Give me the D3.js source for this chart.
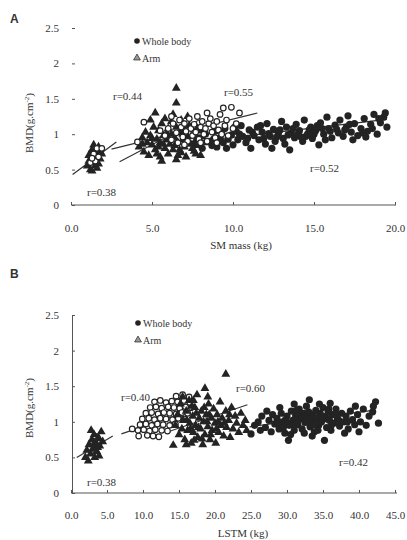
<!DOCTYPE html>
<html>
<head>
<meta charset="utf-8">
<script src="https://cdn.jsdelivr.net/npm/d3@7/dist/d3.min.js"></script>
<style>
  body { margin: 0; background: #fff; }
  svg text { font-family: "Liberation Serif", "Times New Roman", serif; fill: #333; }
</style>
</head>
<body>
<svg id="chart" width="407" height="540"></svg>
<script>
// ---- Panel A: BMD vs SM mass ----
const xTicksA = [0, 5, 10, 15, 20];
const yTicks = [0, 0.5, 1, 1.5, 2, 2.5];
const rLabelsA = ["r=0.44", "r=0.55", "r=0.38", "r=0.52"];

// whole body (filled circles)
const wholeA = [
  [7.6,0.86],[7.9,0.95],[8.1,0.8],[8.3,1.0],[8.5,0.9],[8.7,0.84],[8.9,1.04],[9.0,0.82],[9.2,0.95],[9.4,0.88],
  [9.5,1.08],[9.7,0.93],[9.9,0.99],[10.0,0.85],[10.2,1.04],[10.3,0.92],[10.5,1.12],[10.6,0.97],[10.8,0.88],[11.0,1.06],
  [11.1,0.8],[11.3,0.98],[11.5,1.1],[11.6,0.92],[11.8,1.03],[12.0,0.86],[12.1,1.15],[12.3,0.97],[12.5,1.07],[12.6,0.9],
  [12.8,1.01],[13.0,1.18],[13.1,0.94],[13.3,1.1],[13.5,0.78],[13.6,1.02],[13.8,0.95],[13.9,1.14],[14.1,1.05],[14.3,0.9],
  [14.4,1.2],[14.6,1.0],[14.8,1.1],[14.9,0.94],[15.1,1.05],[15.3,0.85],[15.4,1.16],[15.6,1.0],[15.8,1.24],[15.9,1.08],
  [16.1,0.95],[16.3,1.13],[16.5,1.02],[16.6,1.2],[16.8,0.97],[17.0,1.1],[17.1,1.26],[17.3,1.03],[17.5,1.15],[17.7,0.98],
  [17.9,1.08],[18.1,1.22],[18.3,1.04],[18.5,1.14],[18.7,1.28],[18.9,1.0],[19.1,1.16],[19.3,1.24],[19.5,1.1],[19.4,1.3],
  [10.4,1.0],[11.2,1.03],[12.2,1.01],[12.9,1.06],[13.4,0.99],[14.0,1.0],[14.7,1.06],[15.2,1.12],[16.0,1.04],[16.9,1.06],
  [13.2,0.86],[11.9,0.94],[14.5,0.97],[15.7,0.92],[17.4,0.92],[18.2,0.96],[9.6,0.8],[12.4,0.8],
  [8.0,1.06],[8.8,0.93],[9.3,1.02],[10.1,1.1],[10.9,0.94],[11.7,1.12],[12.7,0.96],[13.7,1.08],[14.2,0.96],[15.0,1.0],
  [15.5,1.08],[16.4,1.07],[17.2,1.14],[18.0,1.02],[18.6,1.08],[19.0,1.22]
];
// arm (filled triangles)
const armA = [
  [4.2,0.82],[4.4,0.95],[4.5,0.75],[4.6,1.03],[4.7,0.88],[4.8,0.7],[4.9,0.98],[5.0,0.85],[5.1,1.1],[5.2,1.3],
  [5.2,0.78],[5.3,0.93],[5.4,1.05],[5.5,0.68],[5.5,0.88],[5.6,1.15],[5.7,0.98],[5.8,0.8],[5.8,1.22],[5.9,0.92],
  [6.0,1.08],[6.0,0.72],[6.1,0.86],[6.2,1.0],[6.2,1.18],[6.3,0.78],[6.4,0.95],[6.5,1.65],[6.5,1.44],[6.5,0.64],
  [6.5,1.1],[6.6,0.88],[6.7,1.02],[6.8,0.74],[6.8,1.2],[6.9,0.92],[7.0,1.06],[7.0,0.82],[7.1,0.68],[7.2,0.97],
  [7.3,1.12],[7.4,0.86],[7.5,1.0],[7.6,0.76],[7.7,0.92],[7.8,1.08],[7.9,0.84],[8.0,0.7],[8.1,0.96],[8.3,0.88],
  [5.6,0.62],[6.3,1.28],[4.9,1.2],[7.2,1.25],
  [4.4,0.86],[5.0,0.94],[5.3,0.72],[5.7,0.86],[6.0,0.95],[6.4,0.84],[6.7,0.78],[7.1,0.9],[7.5,0.8],[5.9,1.02],
  [6.9,1.0],[7.7,0.72],[5.4,0.82],[6.6,0.7]
];
// open circles
const openA = [
  [4.1,0.89],[4.5,1.17],[5.8,0.98],[6.0,1.08],[6.2,0.92],[6.3,1.15],[6.5,1.02],[6.6,0.88],[6.7,1.2],[6.8,1.1],
  [6.9,0.96],[7.0,1.15],[7.1,1.04],[7.2,0.9],[7.3,1.22],[7.4,1.08],[7.5,0.98],[7.6,1.14],[7.7,1.03],[7.8,1.25],
  [7.9,0.93],[8.0,1.1],[8.1,1.18],[8.2,1.0],[8.3,1.08],[8.4,0.9],[8.5,1.15],[8.6,1.22],[8.7,1.03],[8.8,1.12],
  [8.9,0.95],[9.0,1.18],[9.1,1.06],[9.2,1.28],[9.3,1.0],[9.4,1.37],[9.5,1.12],[9.6,1.2],[9.7,0.98],[9.9,1.38],
  [10.0,1.08],[10.2,1.15],[10.4,1.3],[5.5,1.05],[7.0,0.85],[8.0,0.88],[6.2,1.25],[9.0,0.88],[8.4,1.3]
];
// small cluster
const smallArmA = [
  [1.0,0.55],[1.1,0.62],[1.2,0.5],[1.2,0.7],[1.3,0.78],[1.4,0.6],[1.4,0.85],[1.5,0.68],[1.6,0.52],[1.6,0.75],
  [1.7,0.82],[1.8,0.65],[1.9,0.72],[1.3,0.48],[1.7,0.58],[1.1,0.7],[1.5,0.56],[1.8,0.76],[1.4,0.68]
];
const smallOpenA = [
  [1.2,0.6],[1.4,0.72],[1.5,0.62],[1.6,0.8],[1.3,0.66],[1.7,0.68],[1.9,0.8]
];
// regression lines [x1, y1, x2, y2]
const fitsA = [
  [0.1, 0.43, 2.8, 0.89],
  [2.5, 0.79, 11.5, 1.30],
  [3.0, 0.61, 7.9, 1.20],
  [7.5, 0.89, 19.5, 1.21]
];

// ---- Panel B: BMD vs LSTM ----
const xTicksB = [0, 5, 10, 15, 20, 25, 30, 35, 40, 45];
const rLabelsB = ["r=0.40", "r=0.60", "r=0.38", "r=0.42"];

const wholeB = [
  [25.0,0.83],[25.5,0.95],[26.0,1.0],[26.3,0.88],[26.5,1.08],[27.0,0.92],[27.2,1.15],[27.5,1.02],[27.8,0.86],[28.0,1.1],
  [28.3,0.97],[28.6,1.05],[28.9,0.9],[29.0,1.2],[29.2,1.12],[29.4,1.0],[29.7,0.84],[30.0,1.08],[30.2,0.74],[30.3,0.95],
  [30.5,0.82],[30.6,1.15],[30.8,1.02],[31.0,0.88],[31.0,1.25],[31.2,1.08],[31.5,0.96],[31.7,1.18],[31.9,1.04],[32.1,0.9],
  [32.3,1.12],[32.5,0.99],[32.7,1.22],[32.9,1.06],[33.1,1.31],[33.2,0.93],[33.4,1.1],[33.5,0.8],[33.6,1.01],[33.8,0.86],
  [34.0,1.16],[34.2,1.04],[34.4,0.95],[34.5,1.25],[34.6,1.12],[34.8,1.0],[35.0,1.2],[35.2,0.74],[35.3,1.07],[35.5,0.92],
  [35.7,1.14],[35.9,1.02],[36.0,1.26],[36.1,0.88],[36.3,1.1],[36.5,0.98],[36.8,1.18],[37.0,1.05],[37.3,0.94],[37.6,1.12],
  [37.9,1.0],[38.0,0.84],[38.2,1.08],[38.5,0.9],[38.8,1.15],[39.1,1.03],[39.4,0.96],[39.5,1.22],[39.8,1.1],[40.0,0.86],
  [40.2,1.0],[40.6,1.18],[41.0,0.95],[41.4,1.08],[41.9,1.14],[42.3,1.28],[42.7,0.98],[42.0,1.22],
  [29.8,1.03],[31.4,1.0],[32.8,1.0],[34.0,1.06],[35.6,1.04],[37.2,1.02],[30.9,0.96],[33.0,1.14],
  [28.8,0.98],[30.1,0.98],[31.6,1.1],[32.2,1.06],[33.7,0.96],[34.9,1.08],[36.2,0.96],[36.9,1.1],[38.4,1.0],[29.5,0.92],
  [32.4,0.84],[34.3,0.88],[35.8,1.18],[31.3,1.16]
];
const armB = [
  [14.2,0.67],[14.5,0.95],[14.8,1.1],[15.0,0.82],[15.2,1.25],[15.4,0.9],[15.6,1.02],[15.8,0.75],[16.0,1.15],[16.2,0.88],
  [16.4,1.3],[16.5,0.98],[16.7,0.7],[16.9,1.08],[17.0,0.85],[17.2,1.2],[17.3,0.95],[17.5,1.38],[17.6,0.78],[17.8,1.05],
  [18.0,0.9],[18.1,1.15],[18.3,0.68],[18.4,1.0],[18.6,1.47],[18.6,0.82],[18.8,1.1],[19.0,0.93],[19.1,1.25],[19.3,0.75],
  [19.5,1.05],[19.6,0.88],[19.8,1.18],[20.0,0.98],[20.1,0.7],[20.3,1.1],[20.5,0.85],[20.7,1.28],[20.8,0.95],[21.0,1.05],
  [21.2,0.8],[21.5,1.67],[21.5,1.15],[21.6,0.92],[21.9,1.02],[22.1,0.78],[22.3,1.2],[22.5,0.9],[22.8,1.08],[23.0,0.98],
  [23.3,0.85],[23.6,1.12],[23.9,0.95],[24.2,1.02],[24.4,0.88],[17.0,1.3],[19.0,1.35],[16.0,0.68],[15.5,1.35],
  [17.7,0.92],[18.9,1.0],[20.4,1.0],[16.6,0.9],[19.4,0.82],
  [16.1,1.02],[17.4,1.12],[18.2,0.76],[18.5,1.2],[19.2,1.1],[20.2,0.9],[21.3,0.98],[22.0,1.1],[17.1,0.74],[16.8,1.22]
];
const openB = [
  [14.6,1.36],[15.5,1.38],[16.4,1.35],
  [11.6,1.28],[12.4,1.3],[13.2,1.27],[14.0,1.29],[14.8,1.28],[15.7,1.3],[16.5,1.27],
  [11.0,1.2],[11.8,1.21],[12.6,1.19],[13.5,1.21],[14.3,1.2],[15.1,1.19],[15.9,1.21],[16.7,1.2],
  [10.4,1.12],[11.2,1.13],[12.1,1.11],[12.9,1.13],[13.7,1.12],[14.6,1.11],[15.4,1.13],[16.2,1.12],
  [9.9,1.04],[10.8,1.05],[11.6,1.03],[12.4,1.05],[13.2,1.04],[14.1,1.03],[14.9,1.05],[15.7,1.04],
  [9.6,0.96],[10.4,0.97],[11.2,0.95],[12.0,0.97],[12.8,0.96],[13.7,0.95],[14.5,0.97],
  [9.3,0.88],[10.1,0.89],[10.9,0.87],[11.7,0.89],[12.6,0.88],[13.4,0.87],
  [9.4,0.8],[10.6,0.81],[11.4,0.8],[12.2,0.79],[8.5,0.9]
];
const smallArmB = [
  [2.0,0.5],[2.2,0.6],[2.4,0.45],[2.5,0.68],[2.7,0.55],[2.9,0.75],[3.0,0.62],[3.2,0.82],[3.3,0.5],[3.5,0.7],
  [3.6,0.58],[3.8,0.78],[4.0,0.66],[4.2,0.86],[4.4,0.72],[2.8,0.88],[3.9,0.52],[3.1,0.68],[3.7,0.64]
];
const smallOpenB = [
  [2.6,0.62],[3.1,0.74],[3.4,0.6],[3.9,0.7],[3.3,0.8],[2.8,0.7]
];
const fitsB = [
  [0.8, 0.50, 5.8, 0.80],
  [7.0, 0.83, 17.0, 1.17],
  [13.5, 0.86, 24.5, 1.24],
  [24.8, 0.93, 41.9, 1.16]
];

const legendLabels = ["Whole body", "Arm"];

const svg = d3.select('#chart');
const ink = '#232323';

function drawPanel(p) {
  const x = d3.scaleLinear().domain(p.xDomain).range(p.xRange);
  const y = d3.scaleLinear().domain([0, 2.5]).range(p.yRange);
  const g = svg.append('g');

  // x axis: ticks point up, labels below
  const xa = g.append('g')
    .attr('transform', `translate(0,${p.yRange[0]})`)
    .call(d3.axisBottom(x).tickValues(p.xTicks).tickFormat(d3.format('.1f'))
      .tickSizeInner(-3).tickSizeOuter(0).tickPadding(p.xPad));
  xa.select('.domain').attr('stroke', '#555').attr('d', `M${p.xRange[0]},0H${p.xLineEnd}`);
  xa.selectAll('.tick line').attr('stroke', '#555');
  xa.selectAll('text').style('font-size', '11px').attr('fill', '#333');

  // y axis: ticks point right
  const ya = g.append('g')
    .attr('transform', `translate(${p.yAxisX},0)`)
    .call(d3.axisLeft(y).tickValues(yTicks).tickFormat(d3.format('')).tickSizeInner(-3).tickSizeOuter(0).tickPadding(13));
  ya.select('.domain').attr('stroke', '#555').style('display', p.showYLine ? null : 'none');
  ya.selectAll('.tick line').attr('stroke', '#555');
  ya.selectAll('text').style('font-size', '11px').attr('fill', '#333');

  // regression lines
  g.selectAll('.fit').data(p.fits).enter().append('line')
    .attr('x1', d => x(d[0])).attr('y1', d => y(d[1]))
    .attr('x2', d => x(d[2])).attr('y2', d => y(d[3]))
    .attr('stroke', '#333').attr('stroke-width', 1.2);

  const tri = d3.symbol().type(d3.symbolTriangle).size(34);

  const layers = {
    whole: () => g.append('g').selectAll('circle').data(p.whole).enter().append('circle')
      .attr('cx', d => x(d[0])).attr('cy', d => y(d[1])).attr('r', 3.6).attr('fill', ink),
    arm: () => g.append('g').selectAll('path').data(p.arm.concat(p.smallArm)).enter().append('path')
      .attr('d', tri).attr('transform', d => `translate(${x(d[0])},${y(d[1])})`).attr('fill', ink),
    open: () => g.append('g').selectAll('circle').data(p.open.concat(p.smallOpen)).enter().append('circle')
      .attr('cx', d => x(d[0])).attr('cy', d => y(d[1])).attr('r', 2.8)
      .attr('fill', '#fff').attr('stroke', ink).attr('stroke-width', 1.2)
  };
  p.order.forEach(k => layers[k]());

  // r annotations
  g.selectAll('.rlab').data(p.rLabels).enter().append('text')
    .attr('x', (d, i) => p.rPos[i][0]).attr('y', (d, i) => p.rPos[i][1])
    .style('font-size', '11px').text(d => d);

  // legend
  const lg = g.append('g').attr('transform', `translate(${p.legend[0]},${p.legend[1]})`);
  lg.append('circle').attr('cx', 0).attr('cy', 0).attr('r', 2.8).attr('fill', ink);
  lg.append('path').attr('d', d3.symbol().type(d3.symbolTriangle).size(20))
    .attr('transform', 'translate(0,17)').attr('fill', '#999').attr('stroke', '#333').attr('stroke-width', 0.8);
  lg.selectAll('.leg').data(legendLabels).enter().append('text')
    .attr('x', 5).attr('y', (d, i) => 4 + i * 17)
    .style('font-size', '10px').text(d => d);

  // axis titles
  g.append('text').attr('x', p.xTitlePos[0]).attr('y', p.xTitlePos[1])
    .attr('text-anchor', 'middle').style('font-size', '11px').text(p.xTitle);
  const yt = g.append('text')
    .attr('transform', `translate(${p.yTitlePos[0]},${p.yTitlePos[1]}) rotate(-90)`)
    .attr('text-anchor', 'middle').style('font-size', '11px');
  yt.append('tspan').text('BMD(g.cm');
  yt.append('tspan').attr('dy', -4).style('font-size', '7px').text('-2');
  yt.append('tspan').attr('dy', 4).text(')');

  // panel letter
  g.append('text').attr('x', 10).attr('y', p.letterY)
    .style('font-family', 'Liberation Sans, Arial, sans-serif').style('font-weight', 'bold')
    .style('font-size', '12px').attr('fill', '#222').text(p.letter);
}

drawPanel({
  letter: 'A', letterY: 23,
  xDomain: [0, 20], xRange: [71, 395], xLineEnd: 396, xTicks: xTicksA, xPad: 19,
  yRange: [205, 28], yAxisX: 72, showYLine: false,
  whole: wholeA, arm: armA, open: openA, smallArm: smallArmA, smallOpen: smallOpenA,
  fits: fitsA, order: ['whole', 'arm', 'open'],
  rLabels: rLabelsA, rPos: [[113, 100], [224, 96], [87, 196], [310, 172]],
  legend: [137, 41],
  xTitle: 'SM mass (kg)', xTitlePos: [241, 249],
  yTitlePos: [33, 123]
});

drawPanel({
  letter: 'B', letterY: 278,
  xDomain: [0, 45], xRange: [71, 395], xLineEnd: 397, xTicks: xTicksB, xPad: 18,
  yRange: [493, 315], yAxisX: 72, showYLine: true,
  whole: wholeB, arm: armB, open: openB, smallArm: smallArmB, smallOpen: smallOpenB,
  fits: fitsB, order: ['whole', 'open', 'arm'],
  rLabels: rLabelsB, rPos: [[121, 401], [236, 392], [87, 486], [339, 466]],
  legend: [138, 323],
  xTitle: 'LSTM (kg)', xTitlePos: [243, 537],
  yTitlePos: [33, 408]
});
</script>
</body>
</html>
